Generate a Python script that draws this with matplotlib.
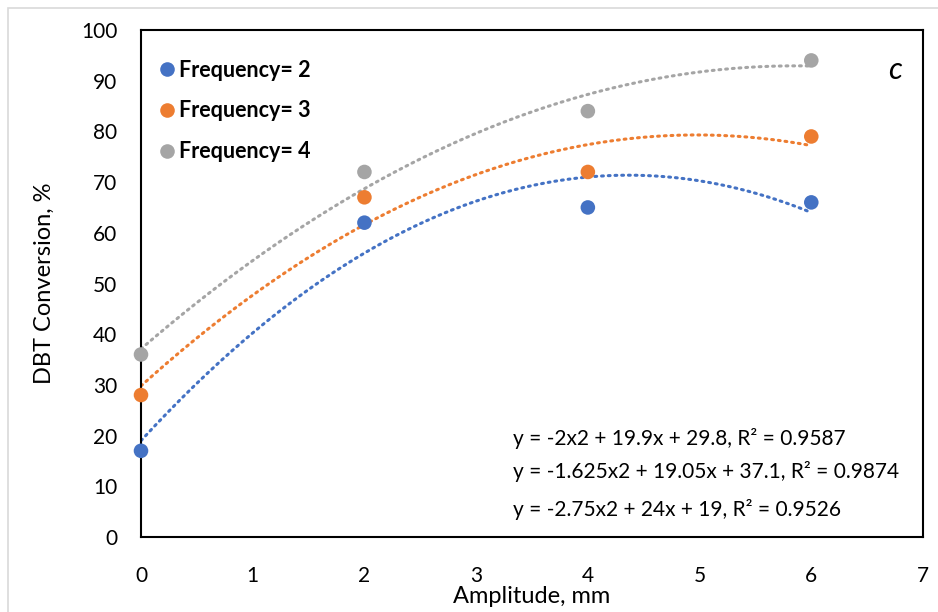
import numpy as np
import matplotlib
matplotlib.use("Agg")
import matplotlib.pyplot as plt
from matplotlib.patches import Rectangle
from matplotlib.lines import Line2D

plt.rcParams['font.family'] = ['Lato', 'DejaVu Sans']

amplitude = [0, 2, 4, 6]
freq2 = [17, 62, 65, 66]
freq3 = [28, 67, 72, 79]
freq4 = [36, 72, 84, 94]
series_labels = ["Frequency= 2", "Frequency= 3", "Frequency= 4"]
colors = ["#4472C4", "#ED7D31", "#A5A5A5"]
equations = [
    "y = -2x2 + 19.9x + 29.8, R² = 0.9587",
    "y = -1.625x2 + 19.05x + 37.1, R² = 0.9874",
    "y = -2.75x2 + 24x + 19, R² = 0.9526",
]
x_ticks = [0, 1, 2, 3, 4, 5, 6, 7]
y_ticks = [0, 10, 20, 30, 40, 50, 60, 70, 80, 90, 100]

fig = plt.figure(figsize=(9.38, 6.12), dpi=100)
ax = fig.add_axes([141 / 938, 1 - 537 / 612, 782 / 938, 507 / 612])

# light frame around the whole chart
fig.patches.append(Rectangle((8 / 938, -0.05), 1.2, 1 - 8 / 612 + 0.05,
                             transform=fig.transFigure, fill=False,
                             edgecolor="#D9D9D9", linewidth=1.2))

xs = np.array(amplitude, dtype=float)
xfit = np.linspace(0, 6, 200)
for ys, col in zip([freq2, freq3, freq4], colors):
    coef = np.polyfit(xs, np.array(ys, dtype=float), 2)
    ax.plot(xfit, np.polyval(coef, xfit), color=col, linestyle=(0, (0.6, 1.6)),
            linewidth=2.2, dash_capstyle="round", zorder=2)

for ys, col in zip([freq2, freq3, freq4], colors):
    ax.scatter(amplitude, ys, s=110, color=col, zorder=3, clip_on=False,
               edgecolors="none")

ax.set_xlim(0, 7)
ax.set_ylim(0, 100)
ax.set_xticks(x_ticks)
ax.set_yticks(y_ticks)
ax.tick_params(length=0, labelsize=15, colors="black")
ax.tick_params(axis="y", pad=17)
ax.tick_params(axis="x", pad=21)
for sp in ax.spines.values():
    sp.set_linewidth(1.5)
    sp.set_color("black")

ax.set_xlabel("Amplitude, mm", fontsize=17, labelpad=0)
ax.set_ylabel("DBT Conversion, %", fontsize=17, labelpad=19)

handles = [Line2D([], [], marker="o", linestyle="none", markersize=10.5,
                  markerfacecolor=c, markeredgecolor="none") for c in colors]
leg = ax.legend(handles, series_labels, loc="upper left",
                bbox_to_anchor=(0.0, 0.98), frameon=False,
                prop={"weight": "bold", "size": 15.5},
                handlelength=0.6, handletextpad=0.25, labelspacing=0.92,
                borderaxespad=0.5)

eq_y = [19.5, 13.0, 5.5]
for txt, yy in zip(equations, eq_y):
    ax.text(3.33, yy, txt, fontsize=15, va="center", ha="left")

ax.text(6.75, 92.1, "c", fontsize=22, style="italic", ha="center", va="center")

fig.savefig("out.png", dpi=100)
